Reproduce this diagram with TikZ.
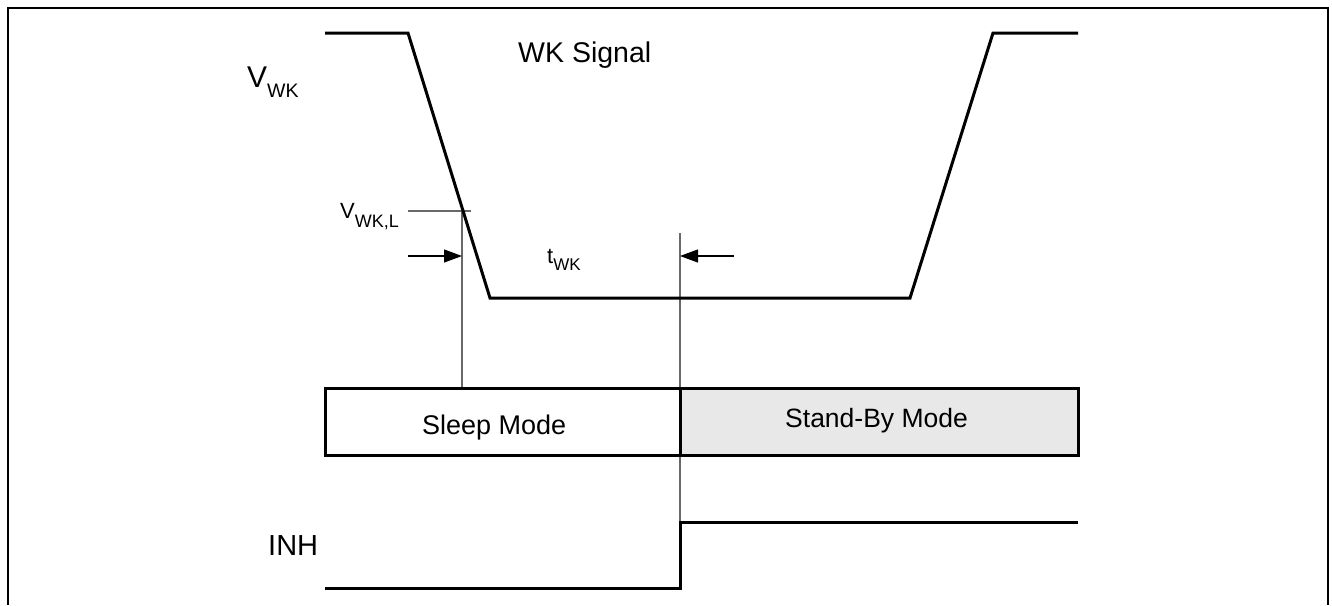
\documentclass[tikz,border=0pt]{standalone}
\usepackage{fontspec}
\setmainfont{Liberation Sans}
\usetikzlibrary{arrows.meta}
\definecolor{colSig}  {RGB}{  0,   0,   0}
\definecolor{colThin} {RGB}{105, 105, 105}
\definecolor{colStby} {RGB}{232, 232, 232}
% subscript: #1 drop (pt), #2 size (pt), #3 text
\newcommand{\subtxt}[3]{\raisebox{-#1pt}{\fontsize{#2}{#2}\selectfont #3}}
\tikzset{
  sigline/.style={line width=3pt, draw=colSig, line join=miter},
  thinline/.style={line width=1.1pt, draw=colThin},
  dimarrow/.style={
    -{Triangle[length=18pt, width=13pt]}, line width=1.1pt, draw=colSig
  },
  modebox/.style={line width=3pt, draw=colSig},
  lbl/.style={inner sep=0pt, anchor=base west, font=\fontsize{#1}{#1}\selectfont},
  lbl/.default=27,
}

\begin{document}
\begin{tikzpicture}[x=1pt, y=-1pt]
\useasboundingbox (0,0) rectangle (1332,605);

%% ── frame (open at the bottom) ──────────────────────────────
\draw[line width=2pt] (8,605) -- (8,8) -- (1328,8) -- (1328,605);

%% ══════════════════════════════════════════════════════════════
%%  WK SIGNAL
%% ══════════════════════════════════════════════════════════════
\coordinate (wkA) at (325,33);
\coordinate (wkB) at (408,33);
\coordinate (wkC) at (490,298);
\coordinate (wkD) at (910,298);
\coordinate (wkE) at (993,33);
\coordinate (wkF) at (1078,33);

%% thin markers
\coordinate (thrL)  at (408,211);
\coordinate (thrR)  at (471,211);
\coordinate (mk1t)  at (462,211);
\coordinate (mk1b)  at (462,388);
\coordinate (mk2t)  at (680,233);
\coordinate (mk2b)  at (680,522);

\draw[thinline] (thrL) -- (thrR);
\draw[thinline] (mk1t) -- (mk1b);
\draw[thinline] (mk2t) -- (mk2b);

\draw[sigline] (wkA) -- (wkB) -- (wkC) -- (wkD) -- (wkE) -- (wkF);

%% t_WK arrows
\coordinate (arrL) at (408,256);
\coordinate (arrR) at (734,256);
\draw[dimarrow] (arrL) -- (arrL -| mk1t);
\draw[dimarrow] (arrR) -- (arrR -| mk2t);

%% ══════════════════════════════════════════════════════════════
%%  MODE BOXES
%% ══════════════════════════════════════════════════════════════
\draw[modebox] (325,388) rectangle (680,455);
\draw[modebox, fill=colStby] (680,388) rectangle (1078,455);

%% ══════════════════════════════════════════════════════════════
%%  INH
%% ══════════════════════════════════════════════════════════════
\coordinate (inhA) at (325,588);
\coordinate (inhB) at (680,588);
\coordinate (inhC) at (680,522);
\coordinate (inhD) at (1078,522);
\draw[sigline] (inhA) -- (inhB) -- (inhC) -- (inhD);

%% ── labels ──────────────────────────────────────────────────
\node[lbl=30]   (vwk)   at (247,87)  {V\subtxt{10}{19.5}{WK}};
\node[lbl=28.5] (sig)   at (518,62)  {WK Signal};
\node[lbl=22]   (vwkl)  at (340,218) {V\subtxt{9}{18}{WK,L}};
\node[lbl=22]   (twk)   at (547,263) {t\subtxt{7}{17}{WK}};
\node[lbl]      (sleep) at (422,434) {Sleep Mode};
\node[lbl=26.5] (stby)  at (785,427) {Stand-By Mode};
\node[lbl=29]   (inh)   at (268,555) {INH};

\end{tikzpicture}
\end{document}
